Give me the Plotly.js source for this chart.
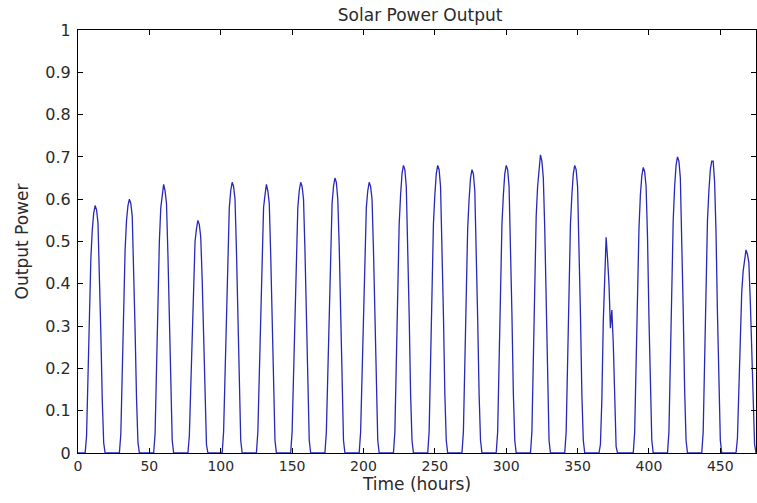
<!DOCTYPE html>
<html>
<head>
<meta charset="utf-8">
<script src="https://cdn.plot.ly/plotly-3.0.1.min.js"></script>
<style>html,body{margin:0;padding:0;background:#fff;}#chart{width:757px;height:503px;}</style>
</head>
<body>
<div id="chart"></div>
<script>
// Daylight hourly output (hours 6..18 of each day)
const day01 = [0.04, 0.177, 0.338, 0.46, 0.527, 0.567, 0.585, 0.575, 0.544, 0.44, 0.283, 0.125, 0.024];
const day02 = [0.045, 0.20, 0.36, 0.48, 0.55, 0.585, 0.60, 0.59, 0.56, 0.45, 0.29, 0.13, 0.025];
const day03 = [0.045, 0.20, 0.37, 0.50, 0.58, 0.61, 0.635, 0.62, 0.59, 0.47, 0.30, 0.13, 0.03];
const day04 = [0.04, 0.16, 0.32, 0.43, 0.50, 0.53, 0.55, 0.54, 0.51, 0.41, 0.26, 0.11, 0.02];
const day05 = [0.05, 0.19, 0.37, 0.50, 0.58, 0.62, 0.64, 0.63, 0.60, 0.48, 0.31, 0.13, 0.03];
const day06 = [0.05, 0.19, 0.37, 0.50, 0.58, 0.61, 0.635, 0.62, 0.59, 0.47, 0.30, 0.13, 0.03];
const day07 = [0.05, 0.19, 0.37, 0.50, 0.58, 0.62, 0.64, 0.63, 0.60, 0.48, 0.31, 0.13, 0.03];
const day08 = [0.05, 0.19, 0.38, 0.51, 0.59, 0.63, 0.65, 0.64, 0.60, 0.49, 0.31, 0.14, 0.03];
const day09 = [0.05, 0.19, 0.37, 0.50, 0.58, 0.62, 0.64, 0.63, 0.60, 0.48, 0.31, 0.13, 0.03];
const day10 = [0.05, 0.20, 0.39, 0.54, 0.61, 0.66, 0.68, 0.67, 0.63, 0.51, 0.33, 0.14, 0.03];
const day11 = [0.05, 0.20, 0.39, 0.54, 0.61, 0.66, 0.68, 0.67, 0.63, 0.51, 0.33, 0.14, 0.03];
const day12 = [0.05, 0.20, 0.39, 0.53, 0.60, 0.65, 0.67, 0.66, 0.62, 0.50, 0.32, 0.14, 0.03];
const day13 = [0.05, 0.20, 0.39, 0.54, 0.61, 0.66, 0.68, 0.67, 0.63, 0.51, 0.33, 0.14, 0.03];
const day14 = [0.05, 0.21, 0.41, 0.56, 0.63, 0.68, 0.705, 0.69, 0.65, 0.53, 0.34, 0.15, 0.03];
const day15 = [0.05, 0.20, 0.39, 0.54, 0.61, 0.66, 0.68, 0.67, 0.63, 0.51, 0.33, 0.14, 0.03];
const day16 = [0.02, 0.125, 0.31, 0.44, 0.51, 0.46, 0.40, 0.295, 0.338, 0.26, 0.11, 0.015, 0];
const day17 = [0.05, 0.20, 0.39, 0.53, 0.61, 0.655, 0.675, 0.665, 0.63, 0.51, 0.32, 0.14, 0.03];
const day18 = [0.05, 0.21, 0.40, 0.55, 0.63, 0.68, 0.70, 0.69, 0.65, 0.52, 0.34, 0.15, 0.03];
const day19 = [0.05, 0.20, 0.40, 0.55, 0.62, 0.67, 0.69, 0.69, 0.64, 0.52, 0.33, 0.14, 0.03];
const day20 = [0.035, 0.14, 0.28, 0.38, 0.43, 0.46, 0.48, 0.47, 0.45, 0.36, 0.23, 0.10, 0.02];

const days = [day01, day02, day03, day04, day05, day06, day07, day08, day09, day10,
              day11, day12, day13, day14, day15, day16, day17, day18, day19, day20];
const nightBefore = 6;   // hours 0..5 at zero
const nightAfter = 5;    // hours 19..23 at zero

const xTicks = [0, 50, 100, 150, 200, 250, 300, 350, 400, 450];
const yTicks = [0, 0.1, 0.2, 0.3, 0.4, 0.5, 0.6, 0.7, 0.8, 0.9, 1];
const yTickText = ['0', '0.1', '0.2', '0.3', '0.4', '0.5', '0.6', '0.7', '0.8', '0.9', '1'];

const power = [];
days.forEach(d => {
  for (let i = 0; i < nightBefore; i++) power.push(0);
  d.forEach(v => power.push(v));
  for (let i = 0; i < nightAfter; i++) power.push(0);
});
const hours = power.map((_, i) => i);

const fam = 'DejaVu Sans, Verdana, sans-serif';
const txt = '#2a2a2a';
const titleFont = {family: fam, size: 17, color: txt};
const axisBase = {
  showgrid: false, zeroline: false, showline: true, linecolor: '#000', linewidth: 1,
  mirror: 'ticks', ticks: 'inside', ticklen: 5, tickcolor: '#000', tickwidth: 1
};

Plotly.newPlot('chart', [{
  x: hours, y: power, type: 'scatter', mode: 'lines',
  line: {color: '#2828b8', width: 1.3}, hoverinfo: 'skip'
}], {
  width: 757, height: 503,
  margin: {l: 78, r: 1, t: 30, b: 50},
  paper_bgcolor: '#fff', plot_bgcolor: '#fff',
  showlegend: false,
  title: {text: 'Solar Power Output', font: titleFont, x: 0.555, xanchor: 'center', y: 0.982, yanchor: 'top'},
  xaxis: Object.assign({}, axisBase, {
    range: [0, 475], tickvals: xTicks, ticktext: xTicks.map(String),
    tickfont: {family: fam, size: 14, color: txt},
    title: {text: 'Time (hours)', font: titleFont, standoff: 2}
  }),
  yaxis: Object.assign({}, axisBase, {
    range: [0, 1], tickvals: yTicks, ticktext: yTickText,
    tickfont: {family: fam, size: 16, color: txt},
    ticklabelstandoff: 3,
    title: {text: 'Output Power', font: titleFont, standoff: 12}
  })
}, {staticPlot: true});
</script>
</body>
</html>
